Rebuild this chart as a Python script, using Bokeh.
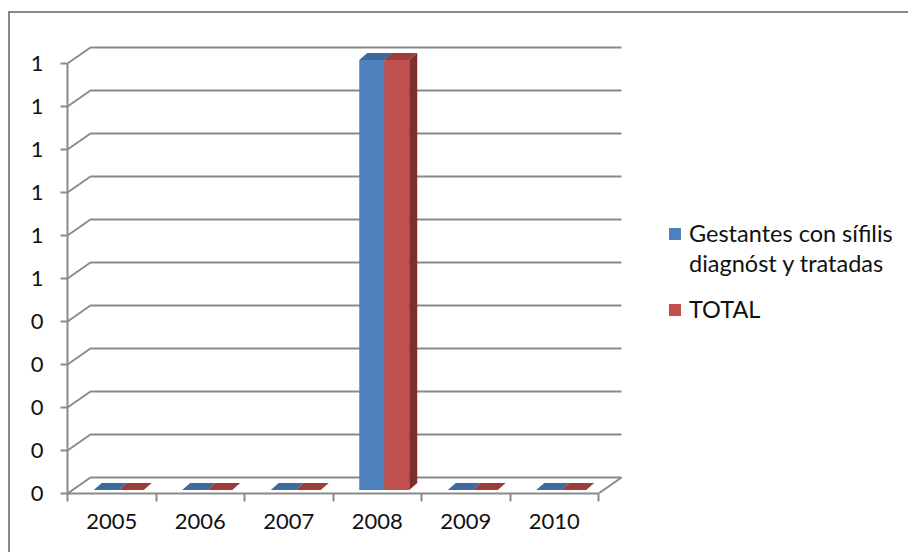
from bokeh.plotting import figure
from bokeh.models import FixedTicker, Range1d, Legend, LegendItem, LinearAxis
from bokeh.embed import file_html
from bokeh.resources import INLINE

# ---- data ----
categories = ["2005", "2006", "2007", "2008", "2009", "2010"]
gestantes = [0, 0, 0, 1, 0, 0]
total = [0, 0, 0, 1, 0, 0]
series_names = ["Gestantes con sífilis", "TOTAL"]
series_name_cont = "diagnóst y tratadas"
y_ticks = [0.0, 0.1, 0.2, 0.3, 0.4, 0.5, 0.6, 0.7, 0.8, 0.9, 1.0]
y_tick_labels = ["0", "0", "0", "0", "0", "1", "1", "1", "1", "1", "1"]

# ---- style / geometry ----
PX_X = 88.5
PX_Y = 430.0
W_DX = 23 / PX_X
W_DY = 16 / PX_Y
B_SX = 7 / PX_X
B_SY = 3.5 / PX_Y
B_DX = 8 / PX_X
B_DY = 7 / PX_Y
BW = 25 / PX_X
GRID = "#8a8a8a"
FONT = "Lato"
FS = "22px"
LFS = "23.5px"
TXT = "#111111"
front_colors = ["#4F81BD", "#C0504D"]
top_colors = ["#3D6A9F", "#9C3D3B"]
side_colors = ["#36608F", "#7E2E2C"]

n = len(categories)
p = figure(width=900, height=541,
           x_range=Range1d(0, 843 / PX_X), y_range=Range1d(0, 473 / PX_Y),
           output_backend="svg", toolbar_location=None,
           x_axis_location=None, y_axis_location=None,
           min_border_left=57, min_border_right=0, min_border_top=7, min_border_bottom=61,
           styles={"margin-left": "8px", "margin-top": "11px",
                   "border-left": "2px solid #898989", "border-top": "2px solid #898989"})
p.grid.visible = False
p.outline_line_color = None
p.background_fill_color = "white"
p.border_fill_color = "white"

# axes
yaxis = LinearAxis(ticker=FixedTicker(ticks=y_ticks, minor_ticks=[]), bounds=(0, 1),
                   major_label_overrides=dict(zip(y_ticks, y_tick_labels)))
yaxis.axis_line_color = GRID
yaxis.axis_line_width = 2
yaxis.major_tick_out = 7
yaxis.major_tick_in = 0
yaxis.major_tick_line_color = GRID
yaxis.major_tick_line_width = 2
yaxis.minor_tick_out = 0
yaxis.major_label_standoff = 17
yaxis.major_label_text_font = FONT
yaxis.major_label_text_font_size = FS
yaxis.major_label_text_color = TXT
p.add_layout(yaxis, "left")

cat_pos = [i + 0.5 for i in range(n)]
xaxis = LinearAxis(ticker=FixedTicker(ticks=cat_pos, minor_ticks=list(range(n + 1))),
                   bounds=(0, n), major_label_overrides=dict(zip(cat_pos, categories)))
xaxis.axis_line_color = GRID
xaxis.axis_line_width = 2
xaxis.major_tick_out = 0
xaxis.major_tick_in = 0
xaxis.minor_tick_out = 8
xaxis.minor_tick_in = 0
xaxis.minor_tick_line_color = GRID
xaxis.minor_tick_line_width = 2
xaxis.major_label_standoff = 12
xaxis.major_label_text_font = FONT
xaxis.major_label_text_font_size = FS
xaxis.major_label_text_color = TXT
p.add_layout(xaxis, "below")

# back wall / side wall gridlines
wall_xs, wall_ys = [], []
for t in y_ticks:
    wall_xs.append([0, W_DX, n + W_DX])
    wall_ys.append([t, t + W_DY, t + W_DY])
p.multi_line(wall_xs, wall_ys, line_color=GRID, line_width=2)
p.line([n, n + W_DX], [0, W_DY], line_color=GRID, line_width=2)

# 3D bars
front_renderers = []
for s, vals in enumerate([gestantes, total]):
    lefts = [i + 0.5 - BW + s * BW + B_SX for i in range(n)]
    rights = [l + BW for l in lefts]
    bottoms = [B_SY] * n
    tops = [v + B_SY for v in vals]
    side_xs = [[r, r + B_DX, r + B_DX, r] for r in rights]
    side_ys = [[B_SY, B_SY + B_DY, t + B_DY, t] for t in tops]
    top_xs = [[l, r, r + B_DX, l + B_DX] for l, r in zip(lefts, rights)]
    top_ys = [[t, t, t + B_DY, t + B_DY] for t in tops]
    fr = p.quad(left=lefts, right=rights, bottom=bottoms, top=tops,
                fill_color=front_colors[s], line_color=None)
    p.patches(side_xs, side_ys, fill_color=side_colors[s], line_color=None)
    p.patches(top_xs, top_ys, fill_color=top_colors[s], line_color=None)
    front_renderers.append(fr)


def make_legend(items, loc):
    lg = Legend(items=items, location=loc)
    lg.background_fill_alpha = 0
    lg.border_line_color = None
    lg.label_text_font = FONT
    lg.label_text_font_size = LFS
    lg.label_text_color = TXT
    lg.label_height = 30
    lg.glyph_width = 15
    lg.glyph_height = 15
    lg.label_standoff = 7
    lg.spacing = 0
    lg.padding = 0
    lg.margin = 0
    return lg


legend_a = make_legend([LegendItem(label=series_names[0], renderers=[front_renderers[0]]),
                        LegendItem(label=series_name_cont, renderers=[])], (600, 215))
legend_b = make_legend([LegendItem(label=series_names[1], renderers=[front_renderers[1]])],
                       (600, 169))
p.add_layout(legend_a, "center")
p.add_layout(legend_b, "center")

open("out.html", "w").write(file_html(p, INLINE))
